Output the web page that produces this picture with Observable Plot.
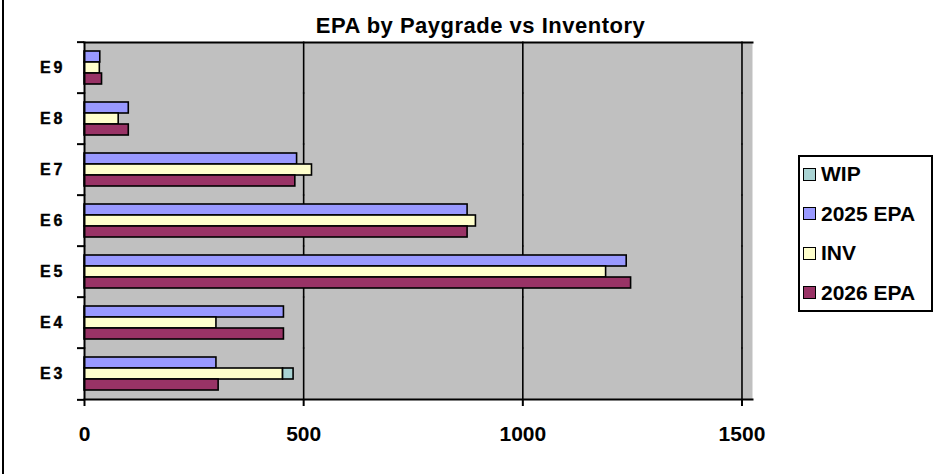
<!DOCTYPE html>
<html>
<head>
<meta charset="utf-8">
<script src="https://cdn.jsdelivr.net/npm/d3@7"></script>
<script src="https://cdn.jsdelivr.net/npm/@observablehq/plot@0.6"></script>
<style>
  html, body { margin: 0; padding: 0; background: #fff; }
  #wrap { position: relative; width: 952px; height: 474px; overflow: hidden;
          font-family: "Liberation Sans", Arial, sans-serif; }
  #border { position: absolute; left: 2px; top: 0; width: 2px; height: 474px; background: #000; }
  #title { position: absolute; left: 0; width: 961px; top: 14.7px; line-height: 22px; text-align: center;
           font-size: 22px; font-weight: bold; letter-spacing: 0.5px; color: #000; }
  #legend { position: absolute; left: 798px; top: 155px; width: 135px; height: 157px; box-sizing: border-box;
            border: 2px solid #000; background: #fff; }
  .entry { position: absolute; left: 3px; height: 20px; display: flex; align-items: center;
           font-size: 21px; font-weight: bold; line-height: 20px; white-space: nowrap; }
  .sw { width: 11px; height: 11px; border: 1.5px solid #000; margin-right: 5px; flex: none; }
  #chart svg { position: absolute; left: 0; top: 0; }
</style>
</head>
<body>
<div id="wrap">
  <div id="chart"></div>
  <div id="border"></div>
  <div id="title"></div>
  <div id="legend"></div>
</div>
<script>
const titleText = "EPA by Paygrade vs Inventory";
const grades = ["E9", "E8", "E7", "E6", "E5", "E4", "E3"];
const epa2025 = [36, 101, 485, 874, 1237, 455, 301];
const inv = [35, 78, 519, 893, 1190, 301, 453];
const wip = [0, 0, 0, 0, 0, 0, 24];
const epa2026 = [40, 101, 481, 874, 1247, 455, 306];
const legendSeries = ["WIP", "2025 EPA", "INV", "2026 EPA"];
const seriesColors = ["#A9D3D3", "#9999FF", "#FFFFCC", "#993366"];
const barRows = ["2025 EPA", "INV", "2026 EPA"];
const xTicks = [0, 500, 1000, 1500];
const xMax = 1524;

const rows = [];
grades.forEach((g, i) => {
  rows.push({grade: g, row: "2025 EPA", series: "2025 EPA", value: epa2025[i]});
  rows.push({grade: g, row: "INV", series: "INV", value: inv[i]});
  rows.push({grade: g, row: "INV", series: "WIP", value: wip[i]});
  rows.push({grade: g, row: "2026 EPA", series: "2026 EPA", value: epa2026[i]});
});
const data = rows.filter(d => d.value > 0);

const W = 952, H = 474, mL = 84, mR = 200, mT = 39, mB = 73;
const step = (H - mT - mB) / grades.length;
const FONT = '"Liberation Sans", Arial, sans-serif';

const chart = Plot.plot({
  width: W, height: H,
  marginLeft: mL, marginRight: mR, marginTop: mT, marginBottom: mB,
  style: {fontFamily: FONT, background: "transparent", color: "#000"},
  x: {domain: [0, xMax], ticks: xTicks, tickFormat: d => String(d), label: null},
  y: {domain: barRows, paddingInner: 0, paddingOuter: 0.76, axis: null},
  fy: {domain: grades, padding: 0, label: null, axis: null},
  color: {domain: legendSeries, range: seriesColors},
  marks: [
    Plot.frame({facet: "super", fill: "#C0C0C0", stroke: null}),
    Plot.ruleX(xTicks.filter(t => t > 0), {stroke: "#000", strokeWidth: 1.6, insetTop: -0.5, insetBottom: -0.5}),
    Plot.barX(data, {fy: "grade", y: "row", x: "value", fill: "series", stroke: "#000", strokeWidth: 1.6}),
    Plot.ruleX([0], {stroke: "#000", strokeWidth: 2, insetTop: -0.5, insetBottom: -0.5}),
    Plot.frame({facet: "super", anchor: "top", stroke: "#000", strokeWidth: 2}),
    Plot.frame({facet: "super", anchor: "bottom", stroke: "#000", strokeWidth: 2}),
    Plot.axisX({anchor: "bottom", ticks: xTicks, tickFormat: d => String(d), tickSize: 7, tickPadding: 20,
                fontSize: 21, fontWeight: "bold", strokeWidth: 2, label: null}),
    Plot.axisFy({anchor: "left", tickSize: 0, tickPadding: 19, fontSize: 16, fontWeight: "bold", label: null}),
    Plot.axisFy({anchor: "left", fill: "none", tickSize: 7, strokeWidth: 2, dy: -step / 2, label: null}),
    Plot.axisFy({anchor: "left", ticks: [grades[grades.length - 1]], fill: "none", tickSize: 7,
                 strokeWidth: 2, dy: step / 2, label: null})
  ]
});
document.getElementById("chart").appendChild(chart);

d3.select(chart).selectAll("g[aria-label='fy-axis tick label'] text")
  .attr("font-size", 16).attr("font-weight", "bold")
  .style("letter-spacing", "3px").style("font-weight", "bold").style("font-size", "16px")
  .style("stroke", "#000").style("stroke-width", "0.4px");

document.getElementById("title").textContent = titleText;

const color = chart.scale("color");
const legend = document.getElementById("legend");
legendSeries.forEach((s, i) => {
  const e = document.createElement("div");
  e.className = "entry";
  e.style.top = (7 + i * 39.6) + "px";
  const sw = document.createElement("span");
  sw.className = "sw";
  sw.style.background = color.apply(s);
  const t = document.createElement("span");
  t.textContent = s;
  e.appendChild(sw);
  e.appendChild(t);
  legend.appendChild(e);
});
</script>
</body>
</html>
